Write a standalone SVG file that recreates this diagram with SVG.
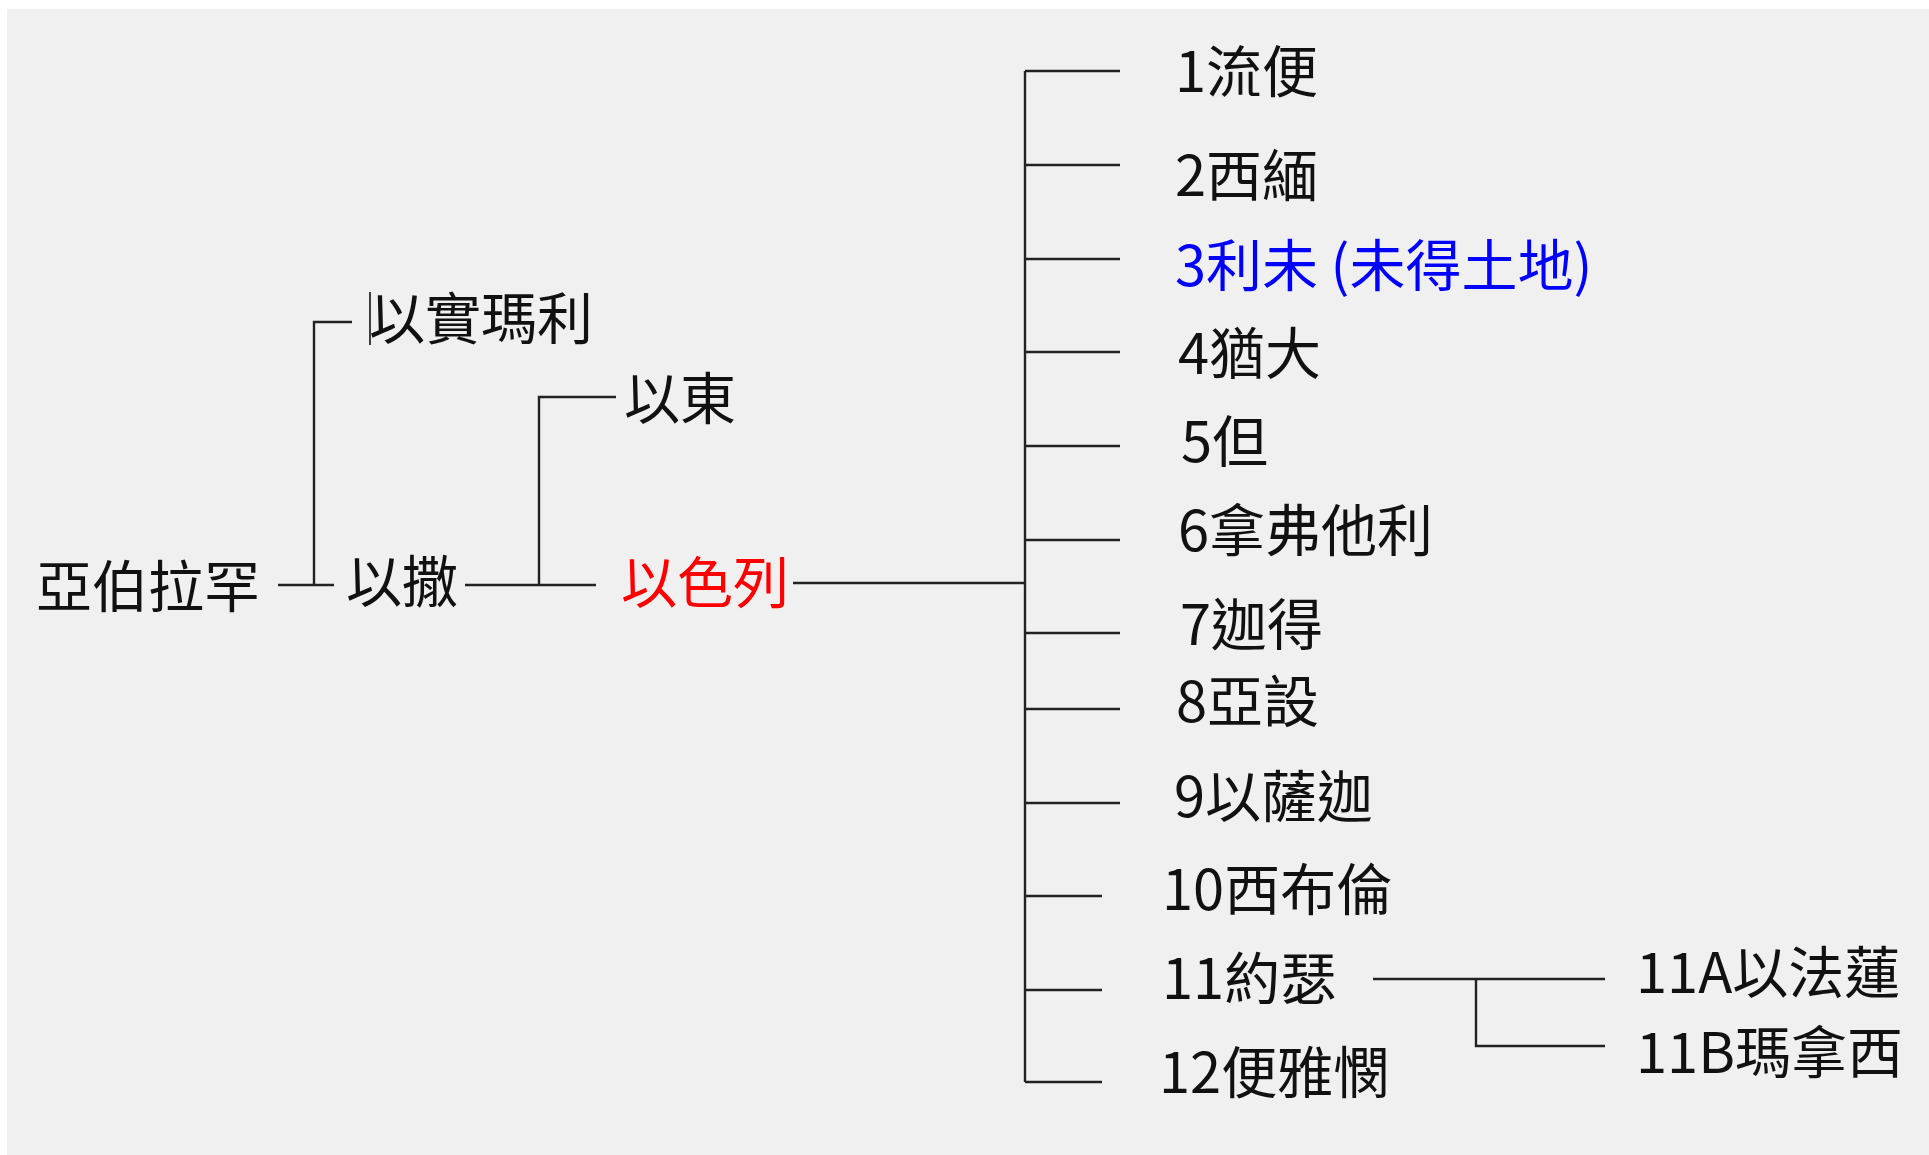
<svg xmlns="http://www.w3.org/2000/svg" width="1929" height="1155" viewBox="0 0 1929 1155">
<style>
.t{font-family:"Noto Sans CJK TC","Noto Sans CJK SC",sans-serif;font-size:56px;fill:#111}
.red{fill:#ff0000}
.blue{fill:#0000ff}
.c{stroke:#222;stroke-width:2.4;fill:none}
</style>
<rect x="0" y="0" width="1929" height="1155" fill="#ffffff"/>
<rect x="7" y="9" width="1922" height="1146" fill="#f0f0f0"/>
<g id="connectors">
<path class="c" d="M278 585H334M314 585V322H352"/>
<path class="c" d="M465 585H596M539 585V397H616"/>
<path class="c" d="M793 583H1025M1025 71V1082"/>
<path class="c" d="M1025 71H1120M1025 165H1120M1025 259H1120M1025 352H1120M1025 446H1120M1025 540H1120M1025 633H1120M1025 709H1120M1025 803H1120M1025 896H1102M1025 990H1102M1025 1082H1102"/>
<path class="c" d="M1373 979H1605M1476 979V1046H1605"/>
<path stroke="#111" stroke-width="1.6" d="M370 292V345"/>
</g>
<g id="n-abraham"><text class="t" x="36" y="607">亞伯拉罕</text></g>
<g id="n-ishmael"><text class="t" x="369" y="339">以實瑪利</text></g>
<g id="n-isaac"><text class="t" x="346" y="602">以撒</text></g>
<g id="n-edom"><text class="t" x="624" y="419">以東</text></g>
<g id="n-israel"><text class="t red" x="621" y="603">以色列</text></g>
<g id="n1"><text class="t" x="1175" y="92">1流便</text></g>
<g id="n2"><text class="t" x="1175" y="196">2西緬</text></g>
<g id="n3"><text class="t blue" x="1175" y="286">3利未 (未得土地)</text></g>
<g id="n4"><text class="t" x="1178" y="374">4猶大</text></g>
<g id="n5"><text class="t" x="1181" y="462">5但</text></g>
<g id="n6"><text class="t" x="1178" y="551">6拿弗他利</text></g>
<g id="n7"><text class="t" x="1180" y="645">7迦得</text></g>
<g id="n8"><text class="t" x="1176" y="722">8亞設</text></g>
<g id="n9"><text class="t" x="1174" y="817">9以薩迦</text></g>
<g id="n10"><text class="t" x="1162" y="910">10西布倫</text></g>
<g id="n11"><text class="t" x="1162" y="999">11約瑟</text></g>
<g id="n12"><text class="t" x="1159" y="1093">12便雅憫</text></g>
<g id="n11a"><text class="t" x="1636" y="993">11A以法蓮</text></g>
<g id="n11b"><text class="t" x="1636" y="1073">11B瑪拿西</text></g>
</svg>
